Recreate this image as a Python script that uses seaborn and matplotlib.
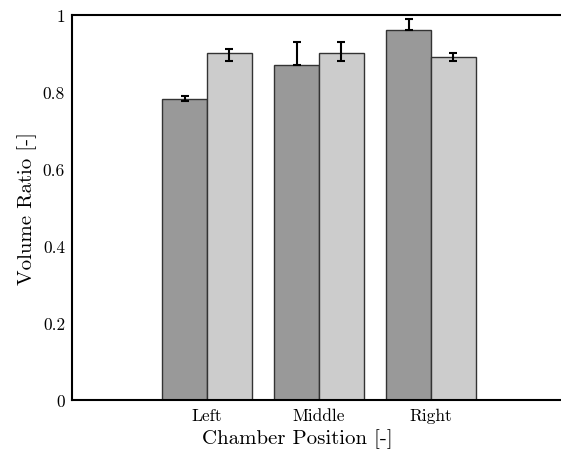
import matplotlib
matplotlib.use("Agg")
import matplotlib.pyplot as plt
import seaborn as sns
import pandas as pd
import numpy as np

positions = ["Left", "Middle", "Right"]
groups = ["A", "B"]
values_a = [0.78, 0.87, 0.96]
values_b = [0.90, 0.90, 0.89]
err_low_a = [0.003, 0.0, 0.0]
err_high_a = [0.01, 0.06, 0.03]
err_low_b = [0.02, 0.02, 0.01]
err_high_b = [0.01, 0.03, 0.01]
yticks = [0, 0.2, 0.4, 0.6, 0.8, 1]
ytick_labels = ["0", "0.2", "0.4", "0.6", "0.8", "1"]

sns.set_theme(style="white")
plt.rcParams["font.family"] = ["cmr10", "DejaVu Serif"]
plt.rcParams["axes.formatter.use_mathtext"] = True
plt.rcParams["mathtext.fontset"] = "cm"

df = pd.DataFrame({
    "Position": positions * 2,
    "Group": [groups[0]] * 3 + [groups[1]] * 3,
    "Value": values_a + values_b,
})

fig = plt.figure(figsize=(5.61, 4.52), dpi=100)
ax = fig.add_axes([72 / 561, 1 - 400.7 / 452, 1 - 72 / 561, (400.7 - 15.7) / 452])

sns.barplot(data=df, x="Position", y="Value", hue="Group", order=positions,
            hue_order=groups, palette=["#999999", "#cccccc"], errorbar=None,
            width=0.8, edgecolor="#333333", linewidth=1.0, saturation=1,
            legend=False, ax=ax)

errs = [(err_low_a, err_high_a), (err_low_b, err_high_b)]
for cont, vals, (lo, hi) in zip(ax.containers, [values_a, values_b], errs):
    xs = [p.get_x() + p.get_width() / 2 for p in cont.patches]
    ax.errorbar(xs, vals, yerr=[lo, hi], fmt="none", ecolor="black",
                elinewidth=1.5, capsize=2.6, capthick=1.5, zorder=5)

ax.set_xlim(-1.205, 3.16)
ax.set_ylim(0, 1)
ax.set_yticks(yticks)
ax.set_yticklabels(ytick_labels)
ax.tick_params(axis="y", length=0, labelsize=12.5, colors="black", pad=5)
ax.tick_params(axis="x", length=0, labelsize=12.5, colors="black", pad=6)
ax.set_xlabel("Chamber Position [-]", fontsize=15, color="black")
ax.set_ylabel("Volume Ratio [-]", fontsize=15, color="black", labelpad=4)
ax.xaxis.set_label_coords(0.46, -0.075)

for side in ["left", "top", "bottom"]:
    ax.spines[side].set_visible(True)
    ax.spines[side].set_color("black")
    ax.spines[side].set_linewidth(1.5)
ax.spines["right"].set_visible(False)

fig.savefig("out.png", dpi=100)
